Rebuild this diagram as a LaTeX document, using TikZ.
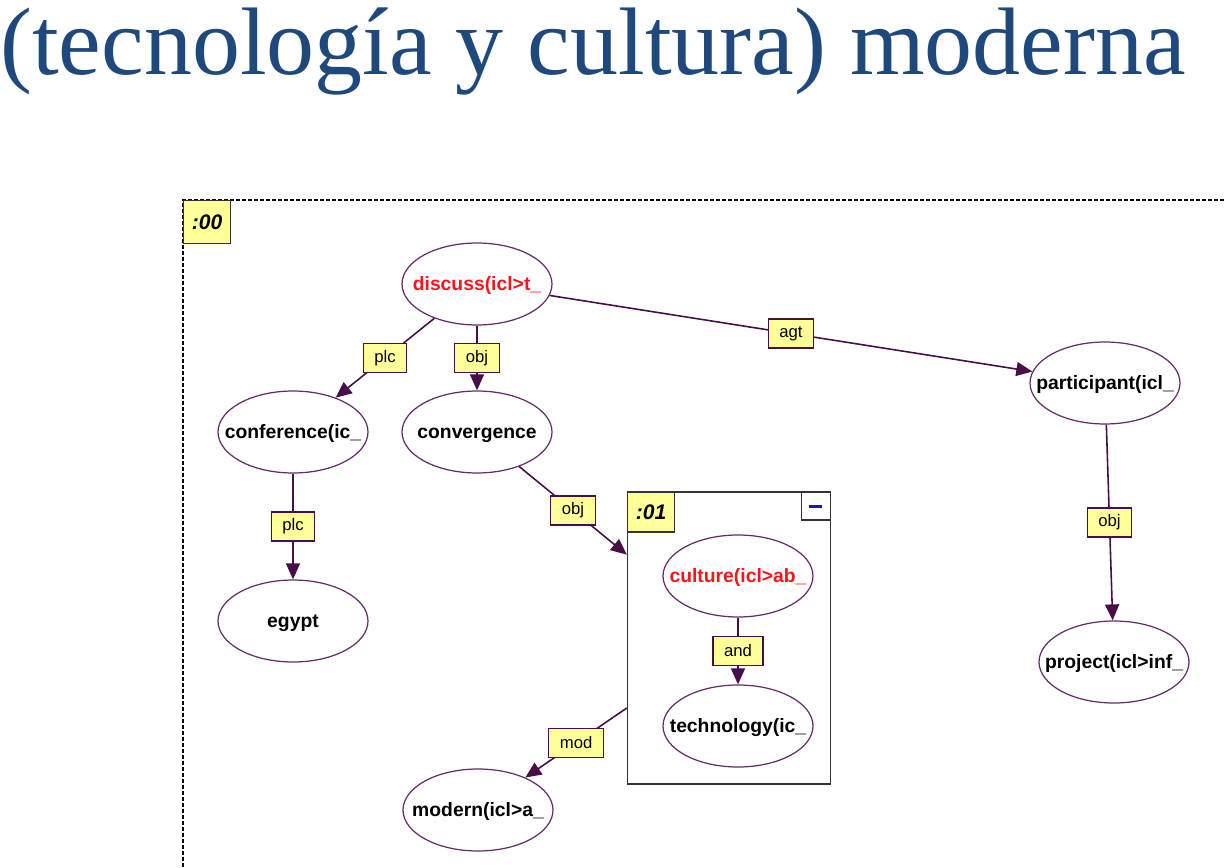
\documentclass[tikz,border=0pt]{standalone}
\usepackage{fontspec}
\setmainfont{Liberation Serif}
\setsansfont{Liberation Sans}
\usepackage{tikz}
\usetikzlibrary{arrows.meta, positioning, shapes.geometric}
\definecolor{titlec}{RGB}{31,73,125}
\definecolor{uwline}{RGB}{70,15,70}
\definecolor{uwnode}{RGB}{100,45,105}
\definecolor{lblfill}{RGB}{255,255,153}
\definecolor{hotc}{RGB}{250,20,30}
\definecolor{minc}{RGB}{20,30,160}
\newcommand{\uwtext}[1]{\makebox[0pt]{#1}}

\begin{document}
\begin{tikzpicture}[x=0.02cm, y=-0.02cm,
    uw/.style={draw=uwnode, line width=0.7pt, ellipse, minimum width=3cm,
      minimum height=1.64cm, inner sep=0pt, text height=7.8pt, text depth=0pt,
      font=\sffamily\bfseries\fontsize{11}{13}\selectfont},
    lbl/.style={draw=uwline, fill=lblfill, line width=0.7pt, inner xsep=0.22cm,
      inner ysep=0pt, minimum height=0.58cm,
      font=\sffamily\fontsize{9.5}{11}\selectfont},
    tag/.style={draw=black!80, fill=lblfill, line width=0.8pt, minimum width=0.94cm,
      inner sep=0pt, font=\sffamily\bfseries\itshape\fontsize{12}{14}\selectfont},
    rel/.style={draw=uwline, line width=0.9pt, -{Triangle[length=3.2mm, width=2.8mm]}}]
  \useasboundingbox (0,0) rectangle (1224,868);
  \node[anchor=base west, inner sep=0pt, text=titlec,
    font=\fontsize{54.6}{60}\selectfont] (title) at (0,75) {(tecnología y cultura) moderna};

  % scope frame
  \coordinate (fr) at (183,200);
  \draw[line width=0.8pt, dash pattern=on 0.08cm off 0.04cm] (1224,200) -- (fr) -- (183,868);
  \node[tag, minimum height=0.86cm, anchor=north west] (t00) at (fr) {:00};

  % nested scope
  \node[draw=black!80, line width=0.8pt, minimum width=4.06cm, minimum height=5.84cm,
    inner sep=0pt] (g01) at (729,638) {};
  \node[tag, minimum height=0.8cm, anchor=north west] (t01) at (g01.north west) {:01};
  \node[draw=black!80, fill=white, line width=0.8pt, minimum width=0.58cm,
    minimum height=0.56cm, inner sep=0pt, anchor=north east] (mini) at (g01.north east)
    {\color{minc}\rule{0.26cm}{0.06cm}};

  % UW nodes
  \node[uw, text=hotc] (disc) at (477,284) {\uwtext{discuss(icl>t\_}};
  \node[uw] (conf) at (293,432) {\uwtext{conference(ic\_}};
  \node[uw] (conv) at (477,432) {\uwtext{convergence}};
  \node[uw] (egy) at (293,621) {\uwtext{egypt}};
  \node[uw] (part) at (1105,383) {\uwtext{participant(icl\_}};
  \node[uw] (proj) at (1114,662) {\uwtext{project(icl>inf\_}};
  \node[uw, text=hotc] (cult) at (738,576) {\uwtext{culture(icl>ab\_}};
  \node[uw] (tech) at (738,726) {\uwtext{technology(ic\_}};
  \node[uw] (modn) at (478,810) {\uwtext{modern(icl>a\_}};

  \foreach \a/\b/\r in {disc/conf/plc, disc/conv/obj, disc/part/agt, conf/egy/plc,
      conv/g01/obj, cult/tech/and, g01/modn/mod, part/proj/obj}
    \draw[rel] (\a) -- node[lbl] {\r} (\b);
\end{tikzpicture}
\end{document}
